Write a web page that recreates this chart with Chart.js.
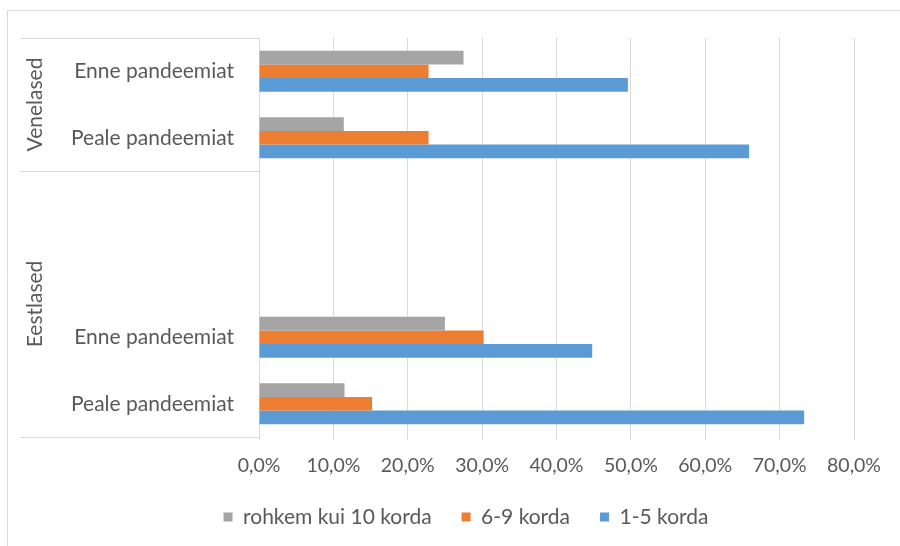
<!DOCTYPE html>
<html>
<head>
<meta charset="utf-8">
<title>Pandeemia</title>
<script src="https://cdn.jsdelivr.net/npm/chart.js@4/dist/chart.umd.min.js"></script>
<style>
    body { margin: 0; background: #fff; }
</style>
</head>
<body>
<canvas id="pandeemiaChart" width="900" height="546"></canvas>
<script>
const categoryLabels = ['Enne pandeemiat', 'Peale pandeemiat', '', '', 'Enne pandeemiat', 'Peale pandeemiat'];
const groupNames = ['Venelased', 'Eestlased'];
const groupSizes = [2, 4];

const over10Data = [27.5, 11.4, null, null, 25.0, 11.5];
const from6to9Data = [22.8, 22.8, null, null, 30.2, 15.2];
const from1to5Data = [49.6, 65.9, null, null, 44.8, 73.3];

const xTicks = [0, 10, 20, 30, 40, 50, 60, 70, 80];

const lineColor = '#d9d9d9';
const textColor = '#595959';

Chart.defaults.font.family = 'Lato';
Chart.defaults.font.size = 21;
Chart.defaults.color = textColor;

// outer frame + group column (Venelased / Eestlased) on the left
const groupAxisPlugin = {
    id: 'groupAxis',
    afterLayout(chart) {
        // legend sits a bit right of the canvas centre
        chart.legend.left += 29;
        chart.legend.right += 29;
    },
    beforeDraw(chart) {
        const ctx = chart.ctx;
        ctx.save();
        ctx.strokeStyle = lineColor;
        ctx.lineWidth = 1;
        ctx.beginPath();
        ctx.moveTo(7.5, chart.height);
        ctx.lineTo(7.5, 10.5);
        ctx.lineTo(chart.width, 10.5);
        ctx.stroke();
        ctx.restore();
    },
    afterDraw(chart) {
        const ctx = chart.ctx;
        const area = chart.chartArea;
        const y = chart.scales.y;
        const left = 20;

        ctx.save();
        ctx.strokeStyle = lineColor;
        ctx.lineWidth = 1;
        ctx.fillStyle = textColor;
        ctx.font = '21px Lato';
        ctx.textAlign = 'center';
        ctx.textBaseline = 'middle';

        let start = 0;
        let top = area.top;
        ctx.beginPath();
        ctx.moveTo(left, Math.round(top) + 0.5);
        ctx.lineTo(area.left, Math.round(top) + 0.5);
        ctx.stroke();

        groupNames.forEach((name, i) => {
            const end = start + groupSizes[i] - 1;
            let bottom;
            if (end >= categoryLabels.length - 1) {
                bottom = area.bottom;
            } else {
                bottom = (y.getPixelForValue(end) + y.getPixelForValue(end + 1)) / 2;
            }
            ctx.beginPath();
            ctx.moveTo(left, Math.round(bottom) + 0.5);
            ctx.lineTo(area.left, Math.round(bottom) + 0.5);
            ctx.stroke();

            ctx.save();
            ctx.translate(35, (top + bottom) / 2);
            ctx.rotate(-Math.PI / 2);
            ctx.fillText(name, 0, 0);
            ctx.restore();

            top = bottom;
            start = end + 1;
        });
        ctx.restore();
    }
};

const ctx = document.getElementById('pandeemiaChart').getContext('2d');

const pandeemiaChart = new Chart(ctx, {
    type: 'bar',
    data: {
        labels: categoryLabels,
        datasets: [{
            label: 'rohkem kui 10 korda',
            data: over10Data,
            backgroundColor: '#a5a5a5'
        },
        {
            label: '6-9 korda',
            data: from6to9Data,
            backgroundColor: '#ed7d31'
        },
        {
            label: '1-5 korda',
            data: from1to5Data,
            backgroundColor: '#5b9bd5'
        }
        ]
    },
    options: {
        indexAxis: 'y',
        responsive: false,
        animation: false,
        categoryPercentage: 0.62,
        barPercentage: 1,
        layout: {
            padding: { left: 20, right: 46, top: 38, bottom: 8.5 }
        },
        scales: {
            x: {
                min: 0,
                max: 80,
                afterBuildTicks(scale) {
                    scale.ticks = xTicks.map(v => ({ value: v }));
                },
                afterFit(scale) {
                    scale.height = 39.5;
                },
                grid: {
                    color: lineColor,
                    lineWidth: 1,
                    tickLength: 3
                },
                border: { display: false },
                ticks: {
                    padding: 14,
                    font: { size: 19.5 },
                    callback: v => v.toFixed(1).replace('.', ',') + '%'
                }
            },
            y: {
                afterFit(scale) {
                    scale.width = 239;
                },
                grid: { display: false },
                border: { display: true, color: lineColor },
                ticks: { padding: 17 }
            }
        },
        plugins: {
            legend: {
                position: 'bottom',
                labels: {
                    boxWidth: 9,
                    boxHeight: 9,
                    padding: 30
                }
            },
            tooltip: { enabled: false }
        }
    },
    plugins: [groupAxisPlugin]
});
</script>
</body>
</html>
